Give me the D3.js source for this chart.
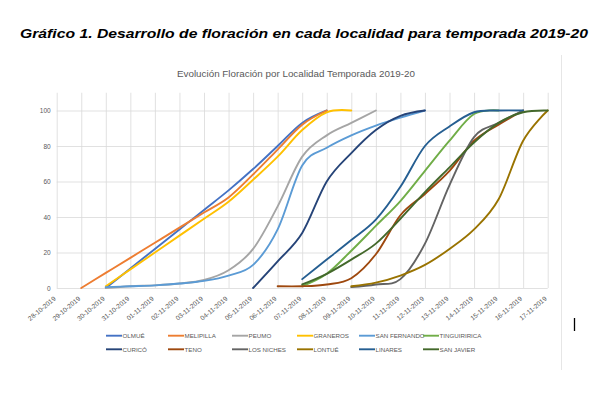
<!DOCTYPE html>
<html><head><meta charset="utf-8">
<script src="https://cdn.jsdelivr.net/npm/d3@7"></script>
<style>
html,body{margin:0;padding:0;background:#fff;}
svg{display:block;}
</style></head>
<body>
<script>
const dates = ["28-10-2019","29-10-2019","30-10-2019","31-10-2019","01-11-2019","02-11-2019","03-11-2019","04-11-2019","05-11-2019","06-11-2019","07-11-2019","08-11-2019","09-11-2019","10-11-2019","11-11-2019","12-11-2019","13-11-2019","14-11-2019","15-11-2019","16-11-2019","17-11-2019"];
const yTicks = [0,20,40,60,80,100];
const _ = null;
const seriesNames = ["OLMUÉ","MELIPILLA","PEUMO","GRANEROS","SAN FERNANDO","TINGUIRIRICA","CURICÓ","TENO","LOS NICHES","LONTUÉ","LINARES","SAN JAVIER"];
const olmue       = [_,_,0,11,22,33,44,55,67,80,93,100,_,_,_,_,_,_,_,_,_];
const melipilla   = [_,0,8.5,17,25.5,34,42.5,51,64,78,92,100,_,_,_,_,_,_,_,_,_];
const peumo       = [_,_,0,1,1.5,2.5,4.5,10,22,46,74,86,93,100,_,_,_,_,_,_,_];
const graneros    = [_,_,1,10.5,20,29.5,39,48.6,61,74,89,99,100,_,_,_,_,_,_,_,_];
const sanFernando = [_,_,0.5,1,1.5,2.5,4,7,13,33,69,79,86,91.5,96,100,_,_,_,_,_];
const tinguiririca= [_,_,_,_,_,_,_,_,_,_,1,8,21,35,49,66,83,98,100,_,_];
const curico      = [_,_,_,_,_,_,_,_,0,15,31,60,76,89,97,100,_,_,_,_,_];
const teno        = [_,_,_,_,_,_,_,_,_,1,1,2,5.5,19,41,53,66,83,92,100,_];
const losNiches   = [_,_,_,_,_,_,_,_,_,_,_,_,0.5,2,5,25,58,85,93,100,_];
const lontue      = [_,_,_,_,_,_,_,_,_,_,_,_,1,3,7,13,22,33,50,83,100];
const linares     = [_,_,_,_,_,_,_,_,_,_,5,16,27,38.5,57,80,91,99,100,100,_];
const sanJavier   = [_,_,_,_,_,_,_,_,_,_,2,8,16,25,39,54,68,82,93,99,100];
const seriesValues = [olmue,melipilla,peumo,graneros,sanFernando,tinguiririca,curico,teno,losNiches,lontue,linares,sanJavier];
const colors = ["#4472C4","#ED7D31","#A5A5A5","#FFC000","#5B9BD5","#70AD47","#264478","#9E480E","#636363","#997300","#255E91","#43682B"];

const W=600,H=396;
const svg=d3.select("body").append("svg").attr("width",W).attr("height",H);

svg.append("text").attr("x",304).attr("y",38).attr("text-anchor","middle")
  .attr("font-family","Liberation Sans, Arial, sans-serif").attr("font-weight","bold").attr("font-style","italic")
  .attr("font-size",13.5).attr("fill","#000")
  .attr("textLength",568).attr("lengthAdjust","spacingAndGlyphs")
  .text("Gráfico 1. Desarrollo de floración en cada localidad para temporada 2019-20");

// chart frame right edge
svg.append("line").attr("x1",561.5).attr("x2",561.5).attr("y1",55).attr("y2",370).attr("stroke","#e6e6e6").attr("stroke-width",1);

svg.append("text").attr("x",296).attr("y",77).attr("text-anchor","middle")
  .attr("font-family","Liberation Sans, Arial, sans-serif").attr("font-size",8.6).attr("fill","#595959")
  .attr("textLength",238).attr("lengthAdjust","spacingAndGlyphs")
  .text("Evolución Floración por Localidad Temporada 2019-20");

const x=d3.scalePoint().domain(dates).range([56.7,547.7]);
const y=d3.scaleLinear().domain([0,110]).range([288,92.75]);

// horizontal gridlines + y labels
const ya=svg.append("g").attr("transform","translate(56.7,0)")
  .call(d3.axisLeft(y).tickValues(yTicks).tickSize(-(547.7-56.7)).tickPadding(6));
ya.select(".domain").remove();
ya.selectAll("line").attr("stroke","#d9d9d9").attr("stroke-width",0.8);
ya.selectAll("text").attr("font-family","Liberation Sans, Arial, sans-serif").attr("font-size",6.5).attr("fill","#595959");

// vertical gridlines + x labels
const xa=svg.append("g").attr("transform","translate(0,288)")
  .call(d3.axisBottom(x).tickSize(-(288-92.75)).tickPadding(0));
xa.select(".domain").remove();
xa.selectAll("line").attr("stroke","#d9d9d9").attr("stroke-width",0.8);
xa.selectAll("text").attr("font-family","Liberation Sans, Arial, sans-serif").attr("font-size",6.6).attr("fill","#595959")
  .attr("text-anchor","end").attr("dy",0).attr("y",0)
  .attr("transform","translate(-1,11.5) rotate(-40)");

const line=d3.line().defined(d=>d!==null).x((d,i)=>x(dates[i])).y(d=>y(d)).curve(d3.curveCardinal.tension(0));
const lg=svg.append("g");
seriesValues.forEach((vals,k)=>{
  lg.append("path").attr("d",line(vals)).attr("fill","none").attr("stroke",colors[k]).attr("stroke-width",1.9)
    .attr("stroke-linecap","round");
});

// legend
const legX=[106,168,232,297,359,423];
const legY=[335.7,349.3];
seriesNames.forEach((n,k)=>{
  const lx=legX[k%6], ly=legY[Math.floor(k/6)];
  svg.append("line").attr("x1",lx).attr("x2",lx+16).attr("y1",ly).attr("y2",ly).attr("stroke",colors[k]).attr("stroke-width",1.9);
  svg.append("text").attr("x",lx+16.5).attr("y",ly+2.2).attr("font-family","Liberation Sans, Arial, sans-serif")
    .attr("font-size",6.2).attr("fill","#595959").text(n);
});

// cursor mark
svg.append("line").attr("x1",574.5).attr("x2",574.5).attr("y1",318).attr("y2",331).attr("stroke","#000").attr("stroke-width",1.3);
</script>
</body></html>
